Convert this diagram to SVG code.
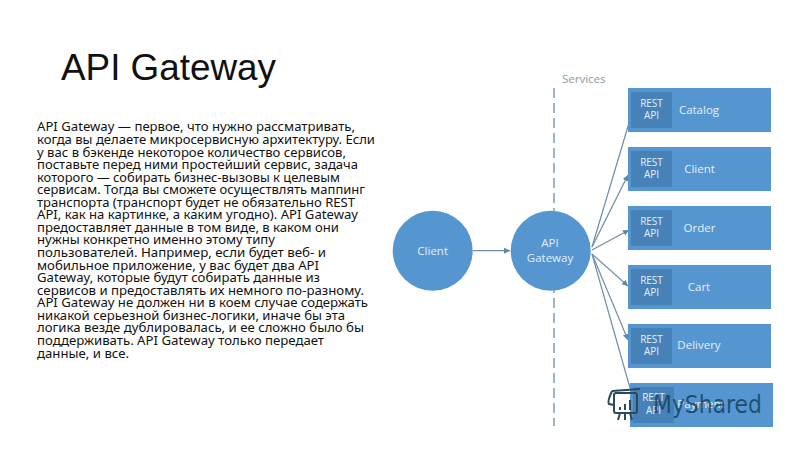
<svg xmlns="http://www.w3.org/2000/svg" width="800" height="450" viewBox="0 0 800 450">
<defs>
<style>
.body{font-family:"Noto Sans","DejaVu Sans",sans-serif;font-size:12.6px;fill:#111111}
.lab{font-family:"Open Sans","Noto Sans",sans-serif;fill:#e3eef8;text-anchor:middle}
.rest{font-size:10px}
.name{font-size:11.5px}
.box{fill:#5596d0}
.api{fill:#4682b8}
.circ{fill:#5596d0}
.conn{stroke:#6f8ea9;stroke-width:1.2;fill:none}
</style>
<marker id="arr" markerUnits="userSpaceOnUse" markerWidth="7" markerHeight="7" refX="6" refY="3" orient="auto"><path d="M0 0L6 3L0 6Z" fill="#5f86a8"/></marker>
</defs>
<rect width="800" height="450" fill="#ffffff"/>
<text x="61" y="80" font-family="Liberation Sans, Arial, sans-serif" font-size="37.500" fill="#111111" textLength="215" lengthAdjust="spacingAndGlyphs">API Gateway</text>
<g id="body-text">
<text class="body" x="37" y="131" textLength="318" lengthAdjust="spacingAndGlyphs">API Gateway — первое, что нужно рассматривать,</text>
<text class="body" x="37" y="144" textLength="338" lengthAdjust="spacingAndGlyphs">когда вы делаете микросервисную архитектуру. Если</text>
<text class="body" x="37" y="156.500" textLength="309" lengthAdjust="spacingAndGlyphs">у вас в бэкенде некоторое количество сервисов,</text>
<text class="body" x="37" y="169" textLength="321" lengthAdjust="spacingAndGlyphs">поставьте перед ними простейший сервис, задача</text>
<text class="body" x="37" y="181.500" textLength="303" lengthAdjust="spacingAndGlyphs">которого — собирать бизнес-вызовы к целевым</text>
<text class="body" x="37" y="194" textLength="328" lengthAdjust="spacingAndGlyphs">сервисам. Тогда вы сможете осуществлять маппинг</text>
<text class="body" x="37" y="206.500" textLength="318" lengthAdjust="spacingAndGlyphs">транспорта (транспорт будет не обязательно REST</text>
<text class="body" x="37" y="219" textLength="321" lengthAdjust="spacingAndGlyphs">API, как на картинке, а каким угодно). API Gateway</text>
<text class="body" x="37" y="231.500" textLength="302" lengthAdjust="spacingAndGlyphs">предоставляет данные в том виде, в каком они</text>
<text class="body" x="37" y="244" textLength="238" lengthAdjust="spacingAndGlyphs">нужны конкретно именно этому типу</text>
<text class="body" x="37" y="257" textLength="289" lengthAdjust="spacingAndGlyphs">пользователей. Например, если будет веб- и</text>
<text class="body" x="37" y="269.500" textLength="282" lengthAdjust="spacingAndGlyphs">мобильное приложение, у вас будет два API</text>
<text class="body" x="37" y="282" textLength="283" lengthAdjust="spacingAndGlyphs">Gateway, которые будут собирать данные из</text>
<text class="body" x="37" y="294.500" textLength="327" lengthAdjust="spacingAndGlyphs">сервисов и предоставлять их немного по-разному.</text>
<text class="body" x="37" y="307" textLength="331" lengthAdjust="spacingAndGlyphs">API Gateway не должен ни в коем случае содержать</text>
<text class="body" x="37" y="319.500" textLength="308" lengthAdjust="spacingAndGlyphs">никакой серьезной бизнес-логики, иначе бы эта</text>
<text class="body" x="37" y="332" textLength="327" lengthAdjust="spacingAndGlyphs">логика везде дублировалась, и ее сложно было бы</text>
<text class="body" x="37" y="345" textLength="287" lengthAdjust="spacingAndGlyphs">поддерживать. API Gateway только передает</text>
<text class="body" x="37" y="357.500" textLength="92" lengthAdjust="spacingAndGlyphs">данные, и все.</text>
</g>
<g id="services-divider">
<line x1="554" y1="88" x2="554" y2="426" stroke="#7d9ab5" stroke-width="1.500" stroke-dasharray="10 5"/>
<text x="562" y="83" font-family="Open Sans, sans-serif" font-size="11.500" fill="#8a9aa8">Services</text>
</g>
<g id="connectors">
<line class="conn" x1="473" y1="250.700" x2="510" y2="250.700" marker-end="url(#arr)"/>
<line class="conn" x1="592" y1="247" x2="629" y2="123"/>
<line class="conn" x1="592" y1="247" x2="628" y2="175" marker-end="url(#arr)"/>
<line class="conn" x1="592" y1="250" x2="629" y2="230" marker-end="url(#arr)"/>
<line class="conn" x1="592" y1="254" x2="628" y2="286" marker-end="url(#arr)"/>
<line class="conn" x1="592" y1="254" x2="628" y2="340" marker-end="url(#arr)"/>
<line class="conn" x1="592" y1="254" x2="630" y2="388"/>
</g>
<g id="client-circle"><circle class="circ" cx="432.700" cy="250.700" r="40"/><text class="lab name" x="432.700" y="254.500">Client</text></g>
<g id="gateway-circle"><circle class="circ" cx="550.700" cy="250.700" r="40"/><text class="lab name" x="550" y="247">API</text><text class="lab name" x="550" y="262">Gateway</text></g>
<g id="catalog"><rect class="box" x="628" y="88" width="143" height="44"/><rect class="api" x="631" y="92" width="41" height="36"/><text class="lab rest" x="651.500" y="107">REST</text><text class="lab rest" x="651.500" y="119">API</text><text class="lab name" x="699" y="114">Catalog</text></g>
<g id="client"><rect class="box" x="628" y="147" width="143" height="44"/><rect class="api" x="631" y="151" width="41" height="36"/><text class="lab rest" x="651.500" y="166">REST</text><text class="lab rest" x="651.500" y="178">API</text><text class="lab name" x="699.500" y="173">Client</text></g>
<g id="order"><rect class="box" x="628" y="206" width="143" height="44"/><rect class="api" x="631" y="210" width="41" height="36"/><text class="lab rest" x="651.500" y="225">REST</text><text class="lab rest" x="651.500" y="237">API</text><text class="lab name" x="699.500" y="232">Order</text></g>
<g id="cart"><rect class="box" x="628" y="265" width="143" height="44"/><rect class="api" x="631" y="269" width="41" height="36"/><text class="lab rest" x="651.500" y="284">REST</text><text class="lab rest" x="651.500" y="296">API</text><text class="lab name" x="699" y="291">Cart</text></g>
<g id="delivery"><rect class="box" x="628" y="324" width="143" height="44"/><rect class="api" x="631" y="328" width="41" height="36"/><text class="lab rest" x="651.500" y="343">REST</text><text class="lab rest" x="651.500" y="355">API</text><text class="lab name" x="699" y="349">Delivery</text></g>
<g id="payment"><rect class="box" x="630" y="383" width="143" height="44"/><rect class="api" x="633" y="387" width="41" height="36"/><text class="lab rest" x="653.500" y="401">REST</text><text class="lab rest" x="653.500" y="414">API</text><text class="lab name" x="701" y="408">Payment</text></g>
<g id="watermark">
<text x="653" y="413" font-family="DejaVu Sans, sans-serif" font-size="25" fill="#123f5c" fill-opacity=".82" textLength="109" lengthAdjust="spacingAndGlyphs">MyShared</text>
<g fill="none" stroke="#2b4a5e" stroke-width="2">
<path d="M612 391L640 389"/>
<rect x="614" y="393" width="23" height="20" rx="2"/>
<path d="M612 391Q607 402 609 404L614 405M620 413L618 420M630 413L632 420M625 413V420"/>
</g>
<path d="M619 410V407h2v3ZM624 410V404h2v6ZM629 410V400h2v10Z" fill="#2b4a5e"/>
</g>
</svg>
